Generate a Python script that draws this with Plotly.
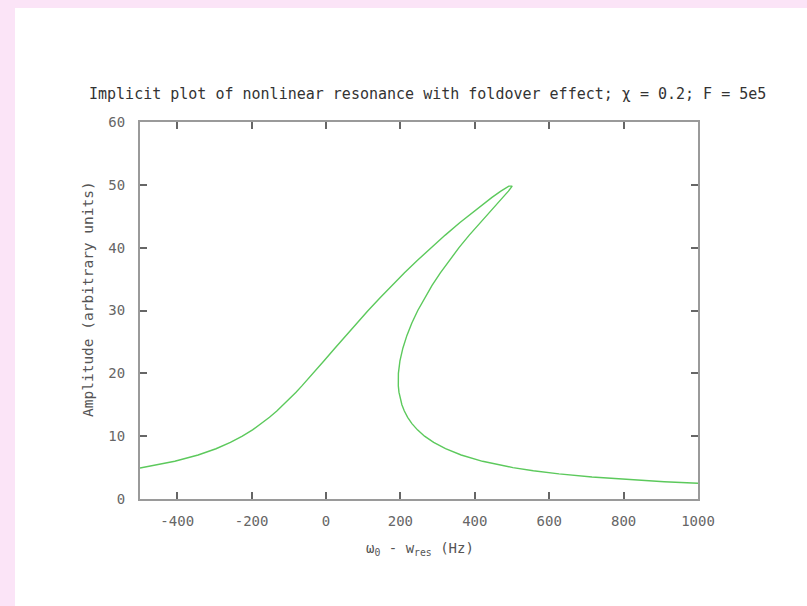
import plotly.graph_objects as go

# detuning (Hz) and amplitude (one continuous path)
detuning = [-500, -445.7, -406.5, -343.8, -295.7, -257.0, -224.9, -197.5, -173.4, -151.9,
            -132.2, -114.0, -96.8, -80.5, -64.8, -49.5, -34.6, -5.2, 23.8, 53.1,
            82.8, 113.3, 144.8, 177.3, 211.0, 246.0, 282.5, 320.5, 360.2, 401.9,
            446.2, 470.0, 482.9, 491.5, 500.5, 497.2, 490.4, 475.4, 444.5, 414.2,
            385.1, 357.5, 331.6, 307.4, 285.1, 264.8, 246.7, 230.8, 217.3, 206.6,
            198.8, 194.6, 193.9, 194.4, 196.1, 199.2, 204.0, 210.6, 219.5, 231.0,
            245.9, 264.9, 289.4, 321.3, 363.4, 420.9, 457.8, 502.5, 557.3, 626.2,
            715.0, 833.6, 909.2, 1000]
amplitude = [4.93, 5.5, 6.0, 7.0, 8.0, 9.0, 10.0, 11.0, 12.0, 13.0,
             14.0, 15.0, 16.0, 17.0, 18.0, 19.0, 20.0, 22.0, 24.0, 26.0,
             28.0, 30.0, 32.0, 34.0, 36.0, 38.0, 40.0, 42.0, 44.0, 46.0,
             48.0, 49.0, 49.5, 49.8, 49.8, 49.5, 49.0, 48.0, 46.0, 44.0,
             42.0, 40.0, 38.0, 36.0, 34.0, 32.0, 30.0, 28.0, 26.0, 24.0,
             22.0, 20.0, 19.0, 18.0, 17.0, 16.0, 15.0, 14.0, 13.0, 12.0,
             11.0, 10.0, 9.0, 8.0, 7.0, 6.0, 5.5, 5.0, 4.5, 4.0,
             3.5, 3.0, 2.75, 2.5]

x_tickvals = [-400, -200, 0, 200, 400, 600, 800, 1000]
x_ticktext = ["-400", "-200", "0", "200", "400", "600", "800", "1000"]
y_tickvals = [0, 10, 20, 30, 40, 50, 60]
y_ticktext = ["0", "10", "20", "30", "40", "50", "60"]

title_text = "Implicit plot of nonlinear resonance with foldover effect; χ = 0.2; F = 5e5"
x_title = "ω<sub>0</sub> - w<sub>res</sub> (Hz)"
y_title = "Amplitude (arbitrary units)"

FONT = "DejaVu Sans Mono"

fig = go.Figure()
fig.add_trace(go.Scatter(x=detuning, y=amplitude, mode="lines",
                         line=dict(color="#5cc95c", width=1.4), showlegend=False,
                         hoverinfo="skip"))

W, H = 807, 606
L, R, T, B = 140, 109, 122, 107
pw, ph = W - L - R, H - T - B

def px_to_paper_x(px):
    return (px - L) / pw

def px_to_paper_y(py):
    return (H - B - py) / ph

axis_common = dict(showline=True, linecolor="#9a9a9a", linewidth=2, mirror="ticks",
                   ticks="inside", ticklen=7, tickwidth=1.5, tickcolor="#666666",
                   showgrid=False, zeroline=False,
                   tickfont=dict(family=FONT, size=14, color="#666666"))

fig.update_layout(
    width=W, height=H,
    margin=dict(l=L, r=R, t=T, b=B, pad=0),
    paper_bgcolor="#fbe4f7",
    plot_bgcolor="white",
    xaxis=dict(range=[-500, 1000], tickvals=x_tickvals, ticktext=x_ticktext,
               ticklabelstandoff=8, **axis_common),
    yaxis=dict(range=[0, 60], tickvals=y_tickvals, ticktext=y_ticktext,
               ticklabelstandoff=10, **axis_common),
    shapes=[dict(type="rect", xref="paper", yref="paper",
                 x0=px_to_paper_x(15), x1=px_to_paper_x(W + 5),
                 y0=px_to_paper_y(H + 5), y1=px_to_paper_y(8),
                 fillcolor="white", line=dict(width=0), layer="below")],
    annotations=[
        dict(text=title_text, xref="paper", yref="paper", x=px_to_paper_x(427),
             y=px_to_paper_y(94), xanchor="center", yanchor="middle", showarrow=False,
             font=dict(family=FONT, size=15, color="#333333")),
        dict(text=x_title, xref="paper", yref="paper", x=px_to_paper_x(420),
             y=px_to_paper_y(549), xanchor="center", yanchor="middle", showarrow=False,
             font=dict(family=FONT, size=14, color="#555555")),
        dict(text=y_title, xref="paper", yref="paper", x=px_to_paper_x(88),
             y=px_to_paper_y(299), xanchor="center", yanchor="middle", showarrow=False,
             textangle=-90, font=dict(family=FONT, size=14.5, color="#555555")),
    ],
)

fig.write_html("out.html", config={"displayModeBar": False},
               post_script="document.body.style.margin='0';")
